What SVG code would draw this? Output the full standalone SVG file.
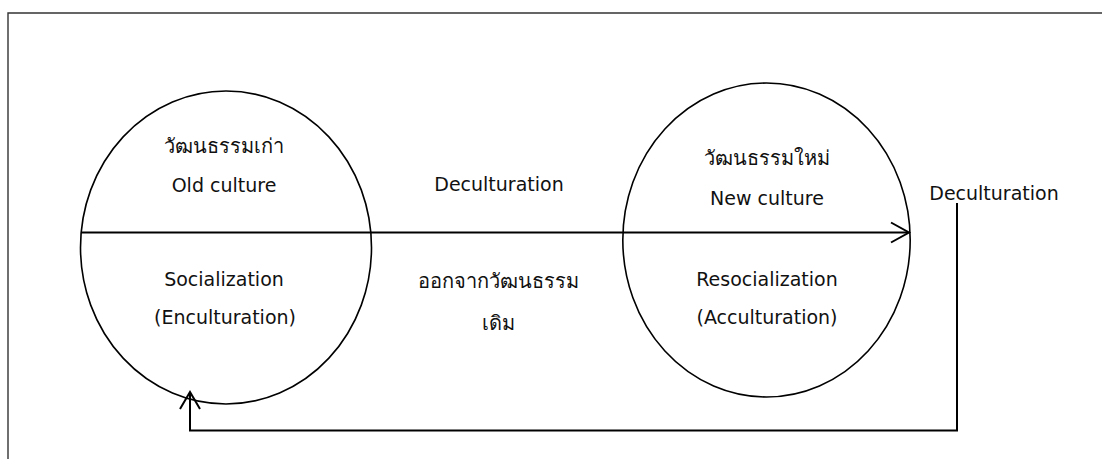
<svg xmlns="http://www.w3.org/2000/svg" width="1102" height="459" viewBox="0 0 1102 459">
<style>
.t{font-family:"DejaVu Sans","Noto Sans",sans-serif;font-size:19px;fill:#111;text-anchor:middle}
.th{font-size:20px;font-weight:500}
.ring{fill:none;stroke:#000;stroke-width:1.6}
.conn{fill:none;stroke:#000;stroke-width:2}
.head{fill:none;stroke:#000;stroke-width:2;stroke-linecap:butt;stroke-linejoin:miter}
</style>
<rect width="1102" height="459" fill="#fff"/>
<path d="M8 459V13H1102" fill="none" stroke="#333" stroke-width="1.4"/>
<g id="old-culture">
<ellipse class="ring" cx="226" cy="247.5" rx="145.5" ry="156.5"/>
<text class="t th" x="224" y="153">วัฒนธรรมเก่า</text>
<text class="t" x="224" y="192">Old culture</text>
<text class="t" x="224" y="286">Socialization</text>
<text class="t" x="225" y="324">(Enculturation)</text>
</g>
<g id="new-culture">
<ellipse class="ring" cx="766.5" cy="240" rx="143.7" ry="157"/>
<text class="t th" x="767" y="165">วัฒนธรรมใหม่</text>
<text class="t" x="767" y="205">New culture</text>
<text class="t" x="767" y="286">Resocialization</text>
<text class="t" x="767" y="324">(Acculturation)</text>
</g>
<g id="middle-label">
<text class="t" x="499" y="191">Deculturation</text>
<text class="t th" x="498" y="288">ออกจากวัฒนธรรม</text>
<text class="t th" x="498" y="330">เดิม</text>
</g>
<g id="return-label">
<text class="t" x="994" y="200">Deculturation</text>
</g>
<g id="connectors">
<path class="conn" d="M81 232.5H908"/>
<path class="head" d="M891 222.5L909 232.5L891 242.5"/>
<path class="conn" d="M957 203V430.5H190V393"/>
<path class="head" d="M180 409L190 392L200 409"/>
</g>
</svg>
